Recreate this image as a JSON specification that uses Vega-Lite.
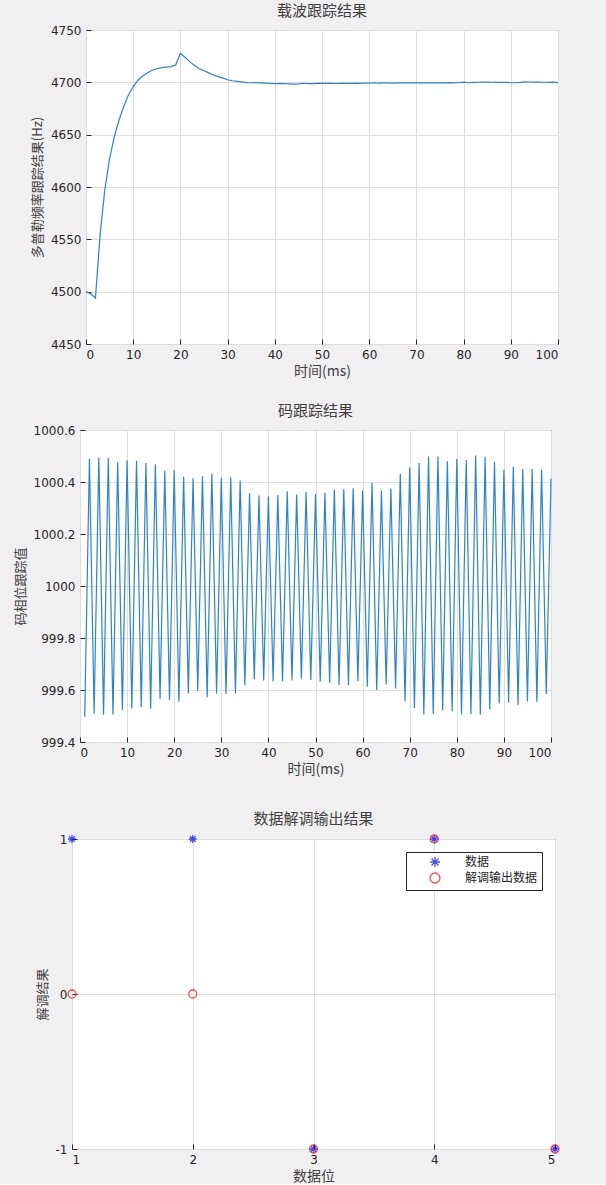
{
  "$schema": "https://vega.github.io/schema/vega-lite/v6.json",
  "background": "#f0f0f0",
  "padding": {"left": 0, "top": 3, "right": 46, "bottom": 0},
  "datasets": {
    "carrier": [
      {"t":0,"f":4500},{"t":1,"f":4498},{"t":2,"f":4494},{"t":3,"f":4555},{"t":4,"f":4598},{"t":5,"f":4627},{"t":6,"f":4648},{"t":7,"f":4664},{"t":8,"f":4677},{"t":9,"f":4688},
      {"t":10,"f":4696},{"t":11,"f":4702},{"t":12,"f":4706},{"t":13,"f":4709},{"t":14,"f":4711.5},{"t":15,"f":4713},{"t":16,"f":4714},{"t":17,"f":4714.5},{"t":18,"f":4715},{"t":19,"f":4716.5},
      {"t":20,"f":4727.5},{"t":21,"f":4724},{"t":22,"f":4719.5},{"t":23,"f":4716},{"t":24,"f":4713},{"t":25,"f":4711},{"t":26,"f":4709},{"t":27,"f":4707},{"t":28,"f":4705.5},{"t":29,"f":4704},
      {"t":30,"f":4702.5},{"t":31,"f":4701.5},{"t":32,"f":4701},{"t":33,"f":4700.5},{"t":34,"f":4699.8},{"t":35,"f":4699.6},{"t":36,"f":4699.7},{"t":37,"f":4699.5},{"t":38,"f":4699.3},{"t":39,"f":4699},
      {"t":40,"f":4698.8},{"t":41,"f":4698.8},{"t":42,"f":4698.9},{"t":43,"f":4698.6},{"t":44,"f":4698.2},{"t":45,"f":4698.6},{"t":46,"f":4699.1},{"t":47,"f":4698.7},{"t":48,"f":4698.8},{"t":49,"f":4699},
      {"t":50,"f":4699.2},{"t":51,"f":4699},{"t":52,"f":4699.1},{"t":53,"f":4698.9},{"t":54,"f":4699},{"t":55,"f":4699.1},{"t":56,"f":4699},{"t":57,"f":4699.2},{"t":58,"f":4699.1},{"t":59,"f":4699.3},
      {"t":60,"f":4699.2},{"t":61,"f":4699.6},{"t":62,"f":4699.3},{"t":63,"f":4699.4},{"t":64,"f":4699.5},{"t":65,"f":4699.3},{"t":66,"f":4699.4},{"t":67,"f":4699.5},{"t":68,"f":4699.4},{"t":69,"f":4699.5},
      {"t":70,"f":4699.4},{"t":71,"f":4699.5},{"t":72,"f":4699.6},{"t":73,"f":4699.4},{"t":74,"f":4699.5},{"t":75,"f":4699.6},{"t":76,"f":4699.4},{"t":77,"f":4699.7},{"t":78,"f":4699.5},{"t":79,"f":4699.6},
      {"t":80,"f":4700.2},{"t":81,"f":4699.6},{"t":82,"f":4699.9},{"t":83,"f":4700.1},{"t":84,"f":4700.3},{"t":85,"f":4700.2},{"t":86,"f":4700.1},{"t":87,"f":4700},{"t":88,"f":4700.1},{"t":89,"f":4699.9},
      {"t":90,"f":4699.6},{"t":91,"f":4699.7},{"t":92,"f":4700},{"t":93,"f":4700.5},{"t":94,"f":4700.3},{"t":95,"f":4700.2},{"t":96,"f":4700.3},{"t":97,"f":4700.1},{"t":98,"f":4699.9},{"t":99,"f":4700.2},
      {"t":100,"f":4699.8}
    ],
    "code": [
      {"t":1,"v":999.497},{"t":2,"v":1000.489},{"t":3,"v":999.510},{"t":4,"v":1000.493},{"t":5,"v":999.505},{"t":6,"v":1000.492},{"t":7,"v":999.506},{"t":8,"v":1000.476},{"t":9,"v":999.524},{"t":10,"v":1000.484},
      {"t":11,"v":999.529},{"t":12,"v":1000.482},{"t":13,"v":999.535},{"t":14,"v":1000.473},{"t":15,"v":999.529},{"t":16,"v":1000.468},{"t":17,"v":999.565},{"t":18,"v":1000.443},{"t":19,"v":999.561},{"t":20,"v":1000.445},
      {"t":21,"v":999.555},{"t":22,"v":1000.420},{"t":23,"v":999.587},{"t":24,"v":1000.414},{"t":25,"v":999.597},{"t":26,"v":1000.422},{"t":27,"v":999.572},{"t":28,"v":1000.432},{"t":29,"v":999.587},{"t":30,"v":1000.415},
      {"t":31,"v":999.585},{"t":32,"v":1000.418},{"t":33,"v":999.587},{"t":34,"v":1000.406},{"t":35,"v":999.617},{"t":36,"v":1000.357},{"t":37,"v":999.641},{"t":38,"v":1000.348},{"t":39,"v":999.637},{"t":40,"v":1000.344},
      {"t":41,"v":999.634},{"t":42,"v":1000.350},{"t":43,"v":999.634},{"t":44,"v":1000.364},{"t":45,"v":999.637},{"t":46,"v":1000.352},{"t":47,"v":999.643},{"t":48,"v":1000.362},{"t":49,"v":999.639},{"t":50,"v":1000.354},
      {"t":51,"v":999.632},{"t":52,"v":1000.359},{"t":53,"v":999.628},{"t":54,"v":1000.371},{"t":55,"v":999.619},{"t":56,"v":1000.372},{"t":57,"v":999.618},{"t":58,"v":1000.376},{"t":59,"v":999.634},{"t":60,"v":1000.367},
      {"t":61,"v":999.613},{"t":62,"v":1000.397},{"t":63,"v":999.600},{"t":64,"v":1000.367},{"t":65,"v":999.621},{"t":66,"v":1000.375},{"t":67,"v":999.606},{"t":68,"v":1000.432},{"t":69,"v":999.557},{"t":70,"v":1000.456},
      {"t":71,"v":999.531},{"t":72,"v":1000.473},{"t":73,"v":999.506},{"t":74,"v":1000.498},{"t":75,"v":999.508},{"t":76,"v":1000.498},{"t":77,"v":999.523},{"t":78,"v":1000.480},{"t":79,"v":999.518},{"t":80,"v":1000.488},
      {"t":81,"v":999.506},{"t":82,"v":1000.485},{"t":83,"v":999.508},{"t":84,"v":1000.502},{"t":85,"v":999.506},{"t":86,"v":1000.496},{"t":87,"v":999.525},{"t":88,"v":1000.478},{"t":89,"v":999.548},{"t":90,"v":1000.447},
      {"t":91,"v":999.552},{"t":92,"v":1000.460},{"t":93,"v":999.541},{"t":94,"v":1000.450},{"t":95,"v":999.556},{"t":96,"v":1000.450},{"t":97,"v":999.555},{"t":98,"v":1000.447},{"t":99,"v":999.585},{"t":100,"v":1000.413}
    ],
    "bits": [
      {"bit":1,"value":1,"series":"数据"},{"bit":2,"value":1,"series":"数据"},{"bit":3,"value":-1,"series":"数据"},{"bit":4,"value":1,"series":"数据"},{"bit":5,"value":-1,"series":"数据"},
      {"bit":1,"value":0,"series":"解调输出数据"},{"bit":2,"value":0,"series":"解调输出数据"},{"bit":3,"value":-1,"series":"解调输出数据"},{"bit":4,"value":1,"series":"解调输出数据"},{"bit":5,"value":-1,"series":"解调输出数据"}
    ],
    "blank": [{"a":0}]
  },
  "config": {
    "view": {"stroke": "#262626", "strokeWidth": 1, "fill": "white"},
    "axis": {
      "domain": false, "grid": true, "gridColor": "#dedede", "gridWidth": 1,
      "ticks": true, "tickSize": -5, "tickColor": "#262626",
      "labelFont": "DejaVu Sans", "labelFontSize": 12, "labelColor": "#262626", "labelPadding": 10,
      "titleFont": "Noto Sans CJK SC", "titleFontWeight": "normal", "titleColor": "#404040"
    },
    "axisX": {"titleFontSize": 14, "titlePadding": 4},
    "axisY": {"titleFontSize": 13, "titlePadding": 6},
    "title": {"font": "Noto Sans CJK SC", "fontSize": 15, "fontWeight": "normal", "color": "#404040", "offset": 5},
    "legend": {"labelFont": "Noto Sans CJK SC", "labelFontSize": 12, "labelColor": "#262626"}
  },
  "resolve": {"legend": {"color": "independent", "shape": "independent"}},
  "vconcat": [
    {
      "vconcat": [
        {
          "hconcat": [
            {"width": 1, "height": 1, "data": {"name": "blank"}, "mark": {"type": "point", "opacity": 0}, "encoding": {}, "view": {"stroke": null, "fill": null}},
            {
              "width": 472, "height": 314,
              "title": "载波跟踪结果",
              "data": {"name": "carrier"},
              "mark": {"type": "line", "color": "#2b84cf", "strokeWidth": 1.2},
              "encoding": {
                "x": {"field": "t", "type": "quantitative", "scale": {"domain": [0, 100], "nice": false, "zero": false},
                      "axis": {"title": "时间(ms)", "values": [0,10,20,30,40,50,60,70,80,90,100]}},
                "y": {"field": "f", "type": "quantitative", "scale": {"domain": [4450, 4750], "nice": false, "zero": false},
                      "axis": {"title": "多普勒频率跟踪结果(Hz)", "values": [4450,4500,4550,4600,4650,4700,4750], "format": "d"}}
              }
            }
          ],
          "spacing": 23
        },
        {
          "hconcat": [
            {"width": 1, "height": 1, "data": {"name": "blank"}, "mark": {"type": "point", "opacity": 0}, "encoding": {}, "view": {"stroke": null, "fill": null}},
            {
              "width": 471, "height": 312,
              "title": "码跟踪结果",
              "data": {"name": "code"},
              "mark": {"type": "line", "color": "#2b84cf", "strokeWidth": 1.2},
              "encoding": {
                "x": {"field": "t", "type": "quantitative", "scale": {"domain": [0, 100], "nice": false, "zero": false},
                      "axis": {"title": "时间(ms)", "values": [0,10,20,30,40,50,60,70,80,90,100]}},
                "y": {"field": "v", "type": "quantitative", "scale": {"domain": [999.4, 1000.6], "nice": false, "zero": false},
                      "axis": {"title": "码相位跟踪值", "values": [999.4,999.6,999.8,1000,1000.2,1000.4,1000.6], "format": ".1~f"}}
              }
            }
          ],
          "spacing": 6
        }
      ],
      "spacing": 24
    },
    {
      "resolve": {"legend": {"color": "independent", "shape": "independent"}},
      "hconcat": [
        {"width": 1, "height": 1, "data": {"name": "blank"}, "mark": {"type": "point", "opacity": 0}, "encoding": {}, "view": {"stroke": null, "fill": null}},
        {
          "width": 483, "height": 310,
          "title": "数据解调输出结果",
          "data": {"name": "bits"},
          "mark": {"type": "point", "filled": false, "strokeWidth": 1.3, "size": 64, "clip": false},
          "encoding": {
            "x": {"field": "bit", "type": "quantitative", "scale": {"domain": [1, 5], "nice": false, "zero": false},
                  "axis": {"title": "数据位", "values": [1,2,3,4,5]}},
            "y": {"field": "value", "type": "quantitative", "scale": {"domain": [-1, 1], "nice": false, "zero": false},
                  "axis": {"title": "解调结果", "values": [-1,0,1], "labelExpr": "'' + datum.value"}},
            "color": {"field": "series", "type": "nominal",
                      "scale": {"domain": ["数据", "解调输出数据"], "range": ["#0000ff", "#ff0000"]},
                      "legend": {"title": null, "orient": "top-right", "offset": 13, "strokeColor": "#262626", "fillColor": "white",
                                 "padding": 4, "rowPadding": 0, "symbolOffset": 19, "labelOffset": 24, "symbolStrokeWidth": 1.3}},
            "shape": {"field": "series", "type": "nominal",
                      "scale": {"domain": ["数据", "解调输出数据"], "range": ["M-1,0L1,0M0,-1L0,1M-0.7,-0.7L0.7,0.7M-0.7,0.7L0.7,-0.7", "circle"]}}
          }
        }
      ],
      "spacing": 28
    }
  ],
  "spacing": 34
}
